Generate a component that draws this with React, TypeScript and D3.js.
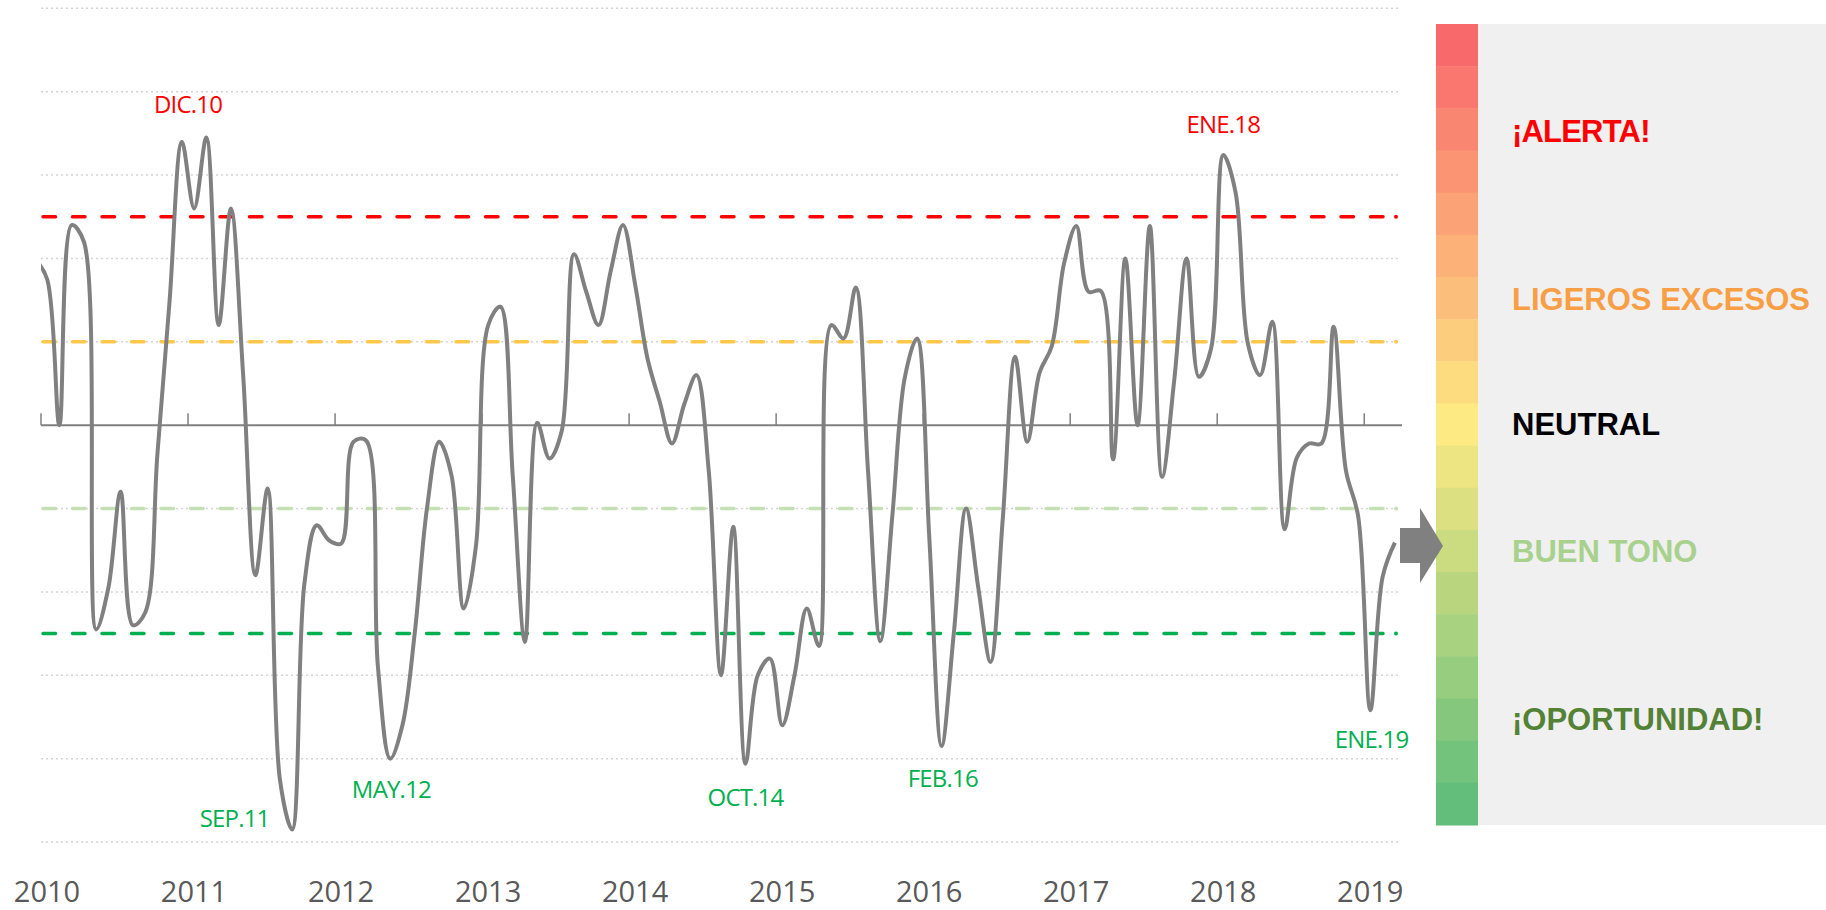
import React from 'react';
import * as d3 from 'd3';

const W = 1826;
const H = 910;

// índice mensual, ene.2010 - mar.2019
const valores = [
  1.75, 0.0, 2.4, 2.2, -2.45, -1.95, -0.8, -2.4, -2.25, -0.35, 1.5, 3.4,
  2.6, 3.45, 1.2, 2.6, 0.6, -1.8, -0.76, -4.25, -4.85, -1.9, -1.2, -1.38,
  -1.42, -0.2, -0.18, -2.9, -4.0, -3.6, -2.5, -1.0, -0.2, -0.6, -2.2, -1.45,
  1.2, 1.42, -0.6, -2.6, 0.03, -0.4, -0.07, 2.05, 1.6, 1.2, 1.85, 2.4,
  1.68, 0.8, 0.28, -0.22, 0.25, 0.6, -0.55, -3.0, -1.22, -4.06, -3.0, -2.8,
  -3.6, -3.0, -2.2, -2.65, 1.2, 1.04, 1.65, -0.55, -2.59, -1.06, 0.57, 1.04,
  -1.35, -3.85, -2.5, -1.0, -1.95, -2.84, -1.12, 0.82, -0.2, 0.63, 0.95, 1.94,
  2.39, 1.6, 1.61, -0.41, 2.0, 0.0, 2.39, -0.62, 0.55, 2.0, 0.58, 0.92,
  3.24, 2.79, 0.98, 0.6, 1.24, -1.25, -0.39, -0.22, -0.22, 1.18, -0.54, -1.09,
  -3.42, -1.82, -1.41,
];
// dic.2009, solo para la entrada de la curva (queda recortado)
const valorPrevio = 2.0;

const anios = ['2010', '2011', '2012', '2013', '2014', '2015', '2016', '2017', '2018', '2019'];

const umbrales = [
  { valor: 2.5, color: '#FF0000' },
  { valor: 1, color: '#FFC84A' },
  { valor: -1, color: '#C5E0B4' },
  { valor: -2.5, color: '#00B050' },
];

const etiquetas = [
  { texto: 'DIC.10', mes: 11.5, valor: 3.74, color: '#FF0000' },
  { texto: 'ENE.18', mes: 96, valor: 3.5, color: '#FF0000' },
  { texto: 'SEP.11', mes: 15.3, valor: -4.82, color: '#00B050' },
  { texto: 'MAY.12', mes: 28.1, valor: -4.47, color: '#00B050' },
  { texto: 'OCT.14', mes: 57, valor: -4.57, color: '#00B050' },
  { texto: 'FEB.16', mes: 73.1, valor: -4.34, color: '#00B050' },
  { texto: 'ENE.19', mes: 108.1, valor: -3.87, color: '#00B050' },
];

const niveles = [
  { texto: '¡ALERTA!', color: '#FF0000' },
  { texto: 'LIGEROS EXCESOS', color: '#F89E45' },
  { texto: 'NEUTRAL', color: '#000000' },
  { texto: 'BUEN TONO', color: '#A9D18E' },
  { texto: '¡OPORTUNIDAD!', color: '#538135' },
];

export default function App() {
  const left = 41;
  const right = 1401;
  const x = d3.scaleLinear().domain([0, valores.length]).range([left, right]);
  const y = d3.scaleLinear().domain([-5, 5]).range([842, 8.3]);

  const puntos: [number, number][] = [[-1, valorPrevio], ...valores.map((v, i) => [i, v] as [number, number])];
  const linea = d3
    .line<[number, number]>()
    .x((d) => x(d[0] + 0.5))
    .y((d) => y(d[1]))
    .curve(d3.curveCatmullRom);

  const grid = y.ticks(10).filter((t) => t !== 0);
  const ticksAnio = d3.range(0, valores.length, 12);

  // barra de color (19 franjas rojo-amarillo-verde)
  const nBandas = 19;
  const barTop = 24;
  const barBottom = 825;
  const bandH = (barBottom - barTop) / nBandas;
  const colorBanda = d3
    .scaleLinear<string>()
    .domain([0, 9, 18])
    .range(['#F8696B', '#FEEA83', '#63BE7B'])
    .interpolate(d3.interpolateRgb);

  const baseLeyenda = [142, 310, 435, 562, 730];
  const lineStart = left + 2;
  const lineEnd = 1396;

  return (
    <div style={{ position: 'absolute', left: 0, top: 0 }}>
      <svg width={W} height={H} style={{ display: 'block' }}>
        <rect x={0} y={0} width={W} height={H} fill="#ffffff" />
        <defs>
          <clipPath id="plot">
            <rect x={left} y={0} width={right - left} height={H} />
          </clipPath>
        </defs>

        {grid.map((t) => (
          <line
            key={t}
            x1={left}
            x2={right}
            y1={y(t)}
            y2={y(t)}
            stroke="#D4D4D4"
            strokeWidth={1.5}
            strokeDasharray="2 3"
          />
        ))}

        {umbrales.map((u) => (
          <g key={u.valor}>
            <line
              x1={lineStart}
              x2={lineEnd - 10}
              y1={y(u.valor)}
              y2={y(u.valor)}
              stroke={u.color}
              strokeWidth={3.5}
              strokeDasharray="12.5 17"
              strokeLinecap="round"
            />
            <circle cx={lineEnd} cy={y(u.valor)} r={2} fill={u.color} />
          </g>
        ))}

        <line x1={left} x2={right + 1} y1={y(0)} y2={y(0)} stroke="#808080" strokeWidth={2} />
        {ticksAnio.map((m) => (
          <line key={m} x1={x(m)} x2={x(m)} y1={y(0) - 12} y2={y(0)} stroke="#808080" strokeWidth={1.5} />
        ))}

        <path
          d={linea(puntos) || ''}
          fill="none"
          stroke="#808080"
          strokeWidth={4}
          strokeLinejoin="round"
          clipPath="url(#plot)"
        />

        {ticksAnio.map((m, i) => (
          <text
            key={m}
            x={x(m) + 6}
            y={902}
            textAnchor="middle"
            fontFamily="'Open Sans', sans-serif"
            fontSize={29}
            fill="#595959"
          >
            {anios[i]}
          </text>
        ))}

        {etiquetas.map((e) => (
          <text
            key={e.texto}
            x={x(e.mes + 0.5)}
            y={y(e.valor)}
            textAnchor="middle"
            fontFamily="'Open Sans', sans-serif"
            fontSize={24}
            letterSpacing={-0.8}
            fill={e.color}
          >
            {e.texto}
          </text>
        ))}

        {/* leyenda */}
        <rect x={1478} y={barTop} width={W - 1478} height={barBottom - barTop} fill="#F0F0F0" />
        {d3.range(nBandas).map((i) => (
          <rect
            key={i}
            x={1436}
            y={barTop + i * bandH}
            width={42}
            height={bandH + 0.5}
            fill={colorBanda(i)}
          />
        ))}
        <polygon
          points="1400,528 1420,528 1420,508 1443,546 1420,583 1420,563 1400,563"
          fill="#808080"
        />
        {niveles.map((n, i) => (
          <text
            key={n.texto}
            x={1512}
            y={baseLeyenda[i]}
            fontFamily="'Liberation Sans', Arial, sans-serif"
            fontWeight="bold"
            fontSize={31}
            letterSpacing={i === 0 ? -0.8 : 0}
            fill={n.color}
          >
            {n.texto}
          </text>
        ))}
      </svg>
    </div>
  );
}
